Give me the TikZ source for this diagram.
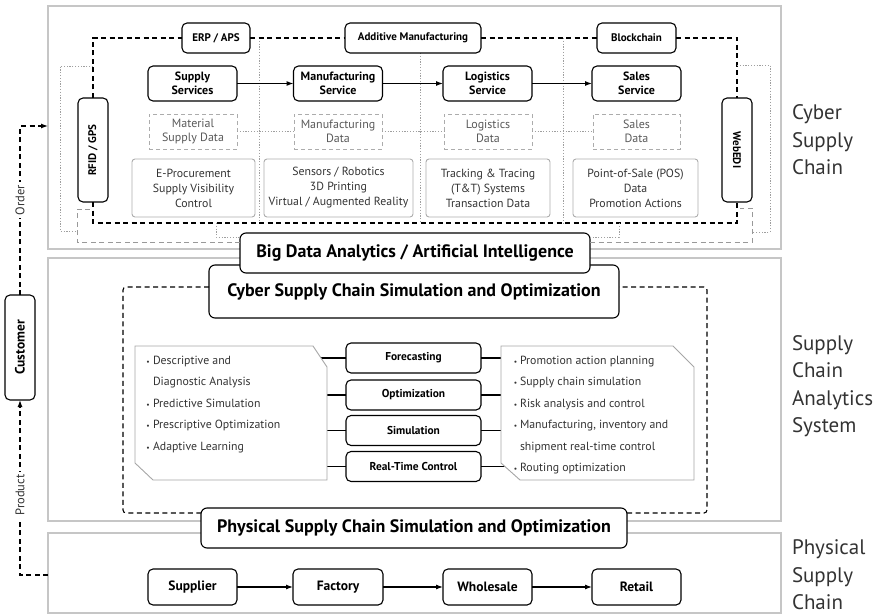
\documentclass[tikz,border=0pt]{standalone}
\usepackage{fontspec}
\setmainfont{PT Sans}
\usetikzlibrary{arrows.meta}

\tikzset{
  every node/.style={inner sep=0pt, outer sep=0pt},
  panel/.style={draw=gray!45, line width=1.6pt},
  sidelabel/.style={anchor=west, align=left, text=black!80, font=\fontsize{21}{27.5}\selectfont},
  svc/.style={draw, rounded corners=5pt, line width=1.1pt, fill=white, align=center,
    font=\fontsize{12}{13.5}\selectfont\bfseries},
  tag/.style={svc, font=\fontsize{11}{13}\selectfont\bfseries},
  small/.style={svc, font=\fontsize{11.4}{13}\selectfont\bfseries},
  station/.style={svc, font=\fontsize{13.5}{15}\selectfont\bfseries},
  bigbox/.style={draw, rounded corners=6pt, line width=1.1pt, fill=white, align=center,
    font=\fontsize{18}{20}\selectfont\bfseries},
  databox/.style={draw=gray!65, dash pattern=on 4pt off 3pt, line width=0.9pt, align=center,
    text=black!65, font=\fontsize{12}{14}\selectfont},
  infobox/.style={draw=gray!65, rounded corners=3pt, line width=0.9pt, align=center,
    text=black!80, font=\fontsize{11.8}{15}\selectfont},
  chamfer/.style={draw=gray!70, line width=0.9pt, fill=white},
  bullettext/.style={anchor=base west, text=black!80, font=\fontsize{11.8}{13}\selectfont},
  bulletdot/.style={anchor=base, text=black!80, font=\fontsize{7.5}{8}\selectfont},
  loopline/.style={line width=1.3pt, dash pattern=on 5pt off 3.5pt},
  softloop/.style={draw=gray!80, line width=1pt, dash pattern=on 5pt off 3.5pt},
  dotline/.style={draw=gray!75, line width=0.9pt, dash pattern=on 1.2pt off 1.6pt},
  flow/.style={line width=1.1pt, -{Latex[length=7pt,width=5pt]}},
  link/.style={line width=1.1pt},
  custflow/.style={line width=1.2pt, dash pattern=on 5pt off 3.5pt, -{Latex[length=7pt,width=5pt]}},
  flowlabel/.style={rotate=90, fill=white, inner sep=2.5pt, text=black!80, font=\fontsize{12.5}{13}\selectfont}
}

\begin{document}
\begin{tikzpicture}[x=1pt, y=-1pt]
\useasboundingbox (0,0) rectangle (877,615);

% three layer panels
\draw[panel] (48,6) rectangle (781,249);
\draw[panel] (48,258) rectangle (781,521);
\draw[panel] (48,533) rectangle (781,613);

% layer titles
\node[sidelabel] (ttlcyber) at (792,140) {Cyber\\Supply\\Chain};
\node[sidelabel] (ttlanalytics) at (792,386) {Supply\\Chain\\Analytics\\System};
\node[sidelabel] (ttlphysical) at (792,575) {Physical\\Supply\\Chain};

% ---------------- cyber supply chain ----------------
% dotted separators (drawn first, boxes sit on top)
\coordinate (sepa) at (259,38);  \coordinate (sepa2) at (259,223);
\coordinate (sepb) at (420,53);  \coordinate (sepb2) at (420,223);
\coordinate (sepc) at (563,38);  \coordinate (sepc2) at (563,223);
\draw[dotline] (sepa) -- (sepa2);
\draw[dotline] (sepb) -- (sepb2);
\draw[dotline] (sepc) -- (sepc2);

\node[tag, minimum width=68pt, minimum height=30pt] (erp) at (216,38) {ERP / APS};
\node[tag, minimum width=136pt, minimum height=30pt] (am) at (413,38) {Additive Manufacturing};
\node[tag, minimum width=79pt, minimum height=30pt] (bc) at (636.5,38) {Blockchain};

\node[svc, minimum width=89pt, minimum height=35pt] (supsvc) at (192.5,83.5) {Supply\\Services};
\node[svc, minimum width=89pt, minimum height=35pt] (mfgsvc) at (338,83.5) {Manufacturing\\Service};
\node[svc, minimum width=89pt, minimum height=35pt] (logsvc) at (487.5,83.5) {Logistics\\Service};
\node[svc, minimum width=89pt, minimum height=35pt] (salsvc) at (636.5,83.5) {Sales\\Service};

\node[databox, minimum width=88pt, minimum height=35pt] (supdata) at (193,131.5) {Material\\Supply Data};
\node[databox, minimum width=88pt, minimum height=35pt] (mfgdata) at (338,131.5) {Manufacturing\\Data};
\node[databox, minimum width=88pt, minimum height=35pt] (logdata) at (488,131.5) {Logistics\\Data};
\node[databox, minimum width=87pt, minimum height=35pt] (saldata) at (636.5,131.5) {Sales\\Data};

\node[infobox, minimum width=123pt, minimum height=58pt] (procure) at (193.5,188) {E-Procurement\\Supply Visibility\\Control};
\node[infobox, minimum width=149pt, minimum height=58pt] (sensors) at (338.5,188) {Sensors / Robotics\\3D Printing\\Virtual / Augmented Reality};
\node[infobox, minimum width=124pt, minimum height=58pt] (tracking) at (488,188) {Tracking \& Tracing\\(T\&T) Systems\\Transaction Data};
\node[infobox, minimum width=125pt, minimum height=58pt] (pos) at (635.5,188) {Point-of-Sale (POS)\\Data\\Promotion Actions};

\node[tag, rotate=90, minimum width=104pt, minimum height=30pt] (rfid) at (93,150) {RFID / GPS};
\node[tag, rotate=-90, minimum width=104pt, minimum height=30pt] (webedi) at (737,150) {WebEDI};

% service chain
\draw[flow] (supsvc) -- (mfgsvc);
\draw[flow] (mfgsvc) -- (logsvc);
\draw[flow] (logsvc) -- (salsvc);

% dotted data links
\draw[dotline] (supdata) -- (mfgdata);
\draw[dotline] (mfgdata) -- (logdata);
\draw[dotline] (logdata) -- (saldata);

% dashed integration loop
\coordinate (loopbl) at (93,223);
\coordinate (loopbr) at (737,223);
\draw[loopline] (rfid.east) |- (erp.west);
\draw[loopline] (erp.east) -- (am.west);
\draw[loopline] (am.east) -- (bc.west);
\draw[loopline] (bc.east) -| (webedi.west);
\draw[loopline] (rfid.west) -- (loopbl) -- (loopbr) -- (webedi.east);

% ---------------- analytics layer ----------------
\node[bigbox, minimum width=410pt, minimum height=53pt] (cybersim) at (414,291.5) {Cyber Supply Chain Simulation and Optimization};
\node[bigbox, minimum width=350pt, minimum height=40pt] (bigdata) at (415,253) {Big Data Analytics / Artificial Intelligence};
\node[bigbox, minimum width=426pt, minimum height=40pt] (physim) at (414,528) {Physical Supply Chain Simulation and Optimization};

% side feedback links from the cyber layer to the analytics box
\coordinate (lsoft) at (77,242);
\coordinate (lsoftup) at (77,209);
\coordinate (lsoftend) at (90,209);
\draw[softloop] (bigdata.west |- lsoft) -- (lsoft) -- (lsoftup) -- (lsoftend);
\coordinate (rsoft) at (752,242);
\coordinate (rsoftup) at (752,208);
\coordinate (rsoftend) at (740,208);
\draw[softloop] (bigdata.east |- rsoft) -- (rsoft) -- (rsoftup) -- (rsoftend);

\coordinate (ldot0) at (93,66);
\coordinate (ldot) at (60,66);
\coordinate (ldot2) at (60,231);
\coordinate (ldot3) at (76,231);
\draw[dotline] (ldot0) -- (ldot) -- (ldot2) -- (ldot3);
\coordinate (rdot0) at (737,65);
\coordinate (rdot) at (770,65);
\coordinate (rdot2) at (770,232);
\coordinate (rdot3) at (753,232);
\draw[dotline] (rdot0) -- (rdot) -- (rdot2) -- (rdot3);

\coordinate (ltap) at (216,223);
\coordinate (ltap2) at (216,237);
\draw[dotline] (ltap) -- (ltap2) -- (bigdata.west |- ltap2);
\coordinate (rtap) at (619,223);
\coordinate (rtap2) at (619,237);
\draw[dotline] (rtap) -- (rtap2) -- (bigdata.east |- rtap2);

% dashed frame of the simulation engine
\coordinate (fr1) at (123,287);
\coordinate (fr2) at (123,513);
\coordinate (fr3) at (707,513);
\coordinate (fr4) at (707,287);
\draw[loopline, line width=1.1pt, rounded corners=3pt] (cybersim.west |- fr1) -- (fr1) -- (fr2) -- (physim.west |- fr2);
\draw[loopline, line width=1.1pt, rounded corners=3pt] (physim.east |- fr3) -- (fr3) -- (fr4) -- (cybersim.east |- fr4);

% method boxes
\node[small, minimum width=135pt, minimum height=30pt] (fc) at (413.5,358) {Forecasting};
\node[small, minimum width=135pt, minimum height=30pt] (opt) at (413.5,395) {Optimization};
\node[small, minimum width=135pt, minimum height=30pt] (sim) at (413.5,430.5) {Simulation};
\node[small, minimum width=135pt, minimum height=30pt] (rtc) at (413.5,466.5) {Real-Time Control};

\coordinate (lpanel) at (320,0);
\coordinate (rpanel) at (508,0);
\foreach \n in {fc,opt,sim,rtc}{
  \draw[link] (\n.west) -- (\n.west -| lpanel);
  \draw[link] (\n.east) -- (\n.east -| rpanel);
}

% analysis type panel and application panel
\draw[chamfer] (135,346) -- (313,346) -- (327,367) -- (327,480) -- (153,480) -- (135,463) -- cycle;
\draw[chamfer] (501,346) -- (673,346) -- (694,367) -- (694,480) -- (520,480) -- (501,463) -- cycle;

\node[bulletdot] (lb1) at (148,364) {\textbullet};
\node[bullettext] (lt1) at (153,364) {Descriptive and};
\node[bullettext] (lt2) at (153,385.5) {Diagnostic Analysis};
\node[bulletdot] (lb3) at (148,407) {\textbullet};
\node[bullettext] (lt3) at (153,407) {Predictive Simulation};
\node[bulletdot] (lb4) at (148,428.5) {\textbullet};
\node[bullettext] (lt4) at (153,428.5) {Prescriptive Optimization};
\node[bulletdot] (lb5) at (148,450) {\textbullet};
\node[bullettext] (lt5) at (153,450) {Adaptive Learning};

\node[bulletdot] (rb1) at (515.5,364) {\textbullet};
\node[bullettext] (rt1) at (520,364) {Promotion action planning};
\node[bulletdot] (rb2) at (515.5,385.5) {\textbullet};
\node[bullettext] (rt2) at (520,385.5) {Supply chain simulation};
\node[bulletdot] (rb3) at (515.5,407) {\textbullet};
\node[bullettext] (rt3) at (520,407) {Risk analysis and control};
\node[bulletdot] (rb4) at (515.5,428.5) {\textbullet};
\node[bullettext] (rt4) at (520,428.5) {Manufacturing, inventory and};
\node[bullettext] (rt5) at (520,450) {shipment real-time control};
\node[bulletdot] (rb6) at (515.5,471.5) {\textbullet};
\node[bullettext] (rt6) at (520,471.5) {Routing optimization};

% ---------------- physical supply chain ----------------
\node[station, minimum width=89pt, minimum height=36pt] (supplier) at (192.5,587) {Supplier};
\node[station, minimum width=90pt, minimum height=36pt] (factory) at (338,587) {Factory};
\node[station, minimum width=89pt, minimum height=36pt] (wholesale) at (487.5,587) {Wholesale};
\node[station, minimum width=89pt, minimum height=36pt] (retail) at (636.5,587) {Retail};
\draw[flow] (supplier) -- (factory);
\draw[flow] (factory) -- (wholesale);
\draw[flow] (wholesale) -- (retail);

% ---------------- customer ----------------
\node[station, rotate=90, minimum width=105pt, minimum height=30pt] (customer) at (20,347.5) {Customer};
\coordinate (orderin) at (48,126);
\coordinate (productout) at (48,575);
\draw[custflow] (customer.east) |- (orderin);
\draw[custflow] (productout) -| (customer.west);
\node[flowlabel] (orderlbl) at (20,200) {Order};
\node[flowlabel] (productlbl) at (20,495) {Product};

\end{tikzpicture}
\end{document}
